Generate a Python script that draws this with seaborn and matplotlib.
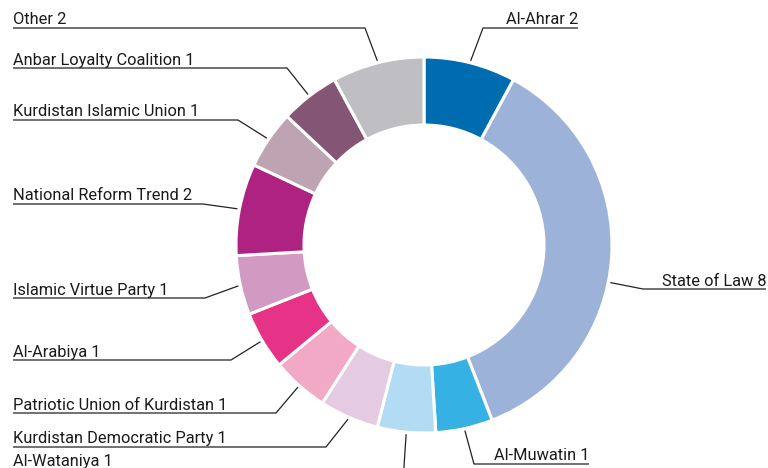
import numpy as np
import matplotlib
matplotlib.use("Agg")
import matplotlib.pyplot as plt
import seaborn as sns

sns.set_theme(style="white")
plt.rcParams["font.family"] = ["Roboto", "DejaVu Sans"]

# ---- data ----
parties = ["Al-Ahrar", "State of Law", "Al-Muwatin", "Al-Wataniya",
           "Kurdistan Democratic Party", "Patriotic Union of Kurdistan",
           "Al-Arabiya", "Islamic Virtue Party", "National Reform Trend",
           "Kurdistan Islamic Union", "Anbar Loyalty Coalition", "Other"]
seats = [2, 8, 1, 1, 1, 1, 1, 1, 2, 1, 1, 2]
# wedge sizes (share of ring, %)
share = [7.9, 36.2, 4.9, 5.0, 5.1, 4.9, 5.0, 5.1, 7.9, 5.0, 5.1, 7.9]
colors = ["#006cb0", "#9db2d8", "#35b1e3", "#b2dcf3", "#e4cbe2", "#f2a9c6",
          "#e63287", "#d29ac3", "#ae2381", "#bea3b3", "#855674", "#bebec3"]

# ---- layout (pixel coords, y from top) ----
W, H = 768, 468
cx, cy, R, ring = 424, 245, 188, 68
FS = 11.8
# label layout: side, underline y, corner x, outer end x
label_layout = {
    "Al-Ahrar": ("R", 28, 483, 578),
    "State of Law": ("R", 289, 643, 766),
    "Al-Muwatin": ("R", 464, 474, 589),
    "Al-Wataniya": ("L", 482, 403, 13),
    "Kurdistan Democratic Party": ("L", 447, 326, 13),
    "Patriotic Union of Kurdistan": ("L", 413, 276, 13),
    "Al-Arabiya": ("L", 360, 231, 13),
    "Islamic Virtue Party": ("L", 298, 205, 13),
    "National Reform Trend": ("L", 204, 203, 13),
    "Kurdistan Islamic Union": ("L", 120, 238, 13),
    "Anbar Loyalty Coalition": ("L", 68, 287, 13),
    "Other": ("L", 28, 365, 13),
}
# leader anchor angle overrides (degrees clockwise from top)
anchor_override = {"State of Law": 101.4}

fig = plt.figure(figsize=(W / 100, H / 100), dpi=100)
ax = fig.add_axes([0, 0, 1, 1])
pal = sns.color_palette(colors)
wedges, _ = ax.pie(share, colors=pal, startangle=90, counterclock=False,
                   radius=R, center=(cx, H - cy),
                   wedgeprops=dict(width=ring, edgecolor="white", linewidth=2.2))
ax.set_xlim(0, W)
ax.set_ylim(0, H)
ax.set_aspect("equal")
ax.axis("off")

total = sum(share)
cum = np.cumsum([0] + share)
for i, (name, v) in enumerate(zip(parties, seats)):
    mid = (cum[i] + share[i] / 2) / total * 2 * np.pi  # clockwise from top
    if name in anchor_override:
        mid = np.deg2rad(anchor_override[name])
    ax_x = cx + (R + 2) * np.sin(mid)
    ax_y = cy - (R + 2) * np.cos(mid)
    side, uy, cornx, endx = label_layout[name]
    lab = f"{name} {v}"
    if name == "Al-Wataniya":
        ax.plot([ax_x, cornx], [H - ax_y, H - uy], color="#222222", lw=0.9,
                solid_capstyle="butt", clip_on=False)
        ax.text(13, H - 466, lab, ha="left", va="baseline",
                fontsize=FS, color="#1a1a1a")
        continue
    ax.plot([ax_x, cornx, endx], [H - ax_y, H - uy, H - uy], color="#222222",
            lw=0.9, solid_capstyle="butt")
    ha = "left" if side == "L" else "right"
    ax.text(endx, H - (uy - 3.5), lab, ha=ha, va="baseline",
            fontsize=FS, color="#1a1a1a")

fig.savefig("out.png", dpi=100)
